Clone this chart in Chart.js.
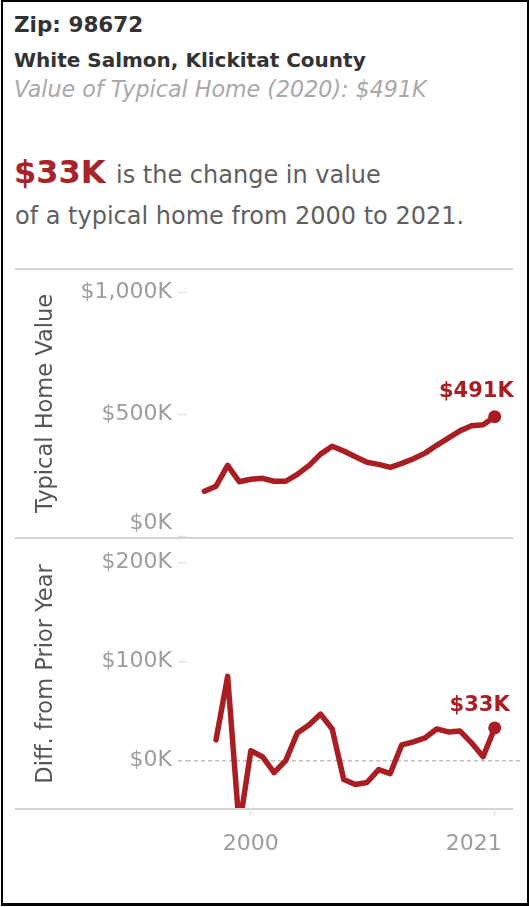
<!DOCTYPE html>
<html>
<head>
<meta charset="utf-8">
<script src="https://cdn.jsdelivr.net/npm/chart.js@4.4.1/dist/chart.umd.min.js"></script>
<style>
  html, body { margin: 0; padding: 0; background: #fff; }
  body { width: 529px; height: 907px; position: relative; overflow: hidden; font-family: "DejaVu Sans", sans-serif; }
  .frame { position: absolute; left: 1px; top: 0; width: 528px; height: 906px; border: 2px solid #000; border-bottom-width: 3px; box-sizing: border-box; }
  .txt { position: absolute; white-space: nowrap; line-height: 1; }
  .rule { position: absolute; left: 15px; width: 498px; height: 2px; background: #d3d3d3; }
  canvas { position: absolute; }
</style>
</head>
<body>
<div class="frame"></div>

<div class="txt" style="left:14px; top:14px; font-size:21.5px; font-weight:bold; color:#333;">Zip: 98672</div>
<div class="txt" style="left:14px; top:50px; font-size:20px; font-weight:bold; color:#333;">White Salmon, Klickitat County</div>
<div class="txt" style="left:14px; top:78px; font-size:22.2px; font-style:italic; color:#a8a8a8;">Value of Typical Home (2020): $491K</div>
<div class="txt" style="left:14px; top:156px; font-size:32px; font-weight:bold; color:#a8232a;">$33K</div>
<div class="txt" style="left:116px; top:163px; font-size:24px; color:#5f5f5f;">is the change in value</div>
<div class="txt" style="left:15px; top:204px; font-size:24px; color:#5f5f5f;">of a typical home from 2000 to 2021.</div>

<div class="rule" style="top:268px;"></div>
<div class="rule" style="top:537px;"></div>
<div class="rule" style="top:808px;"></div>

<canvas id="valueChart" width="507" height="267" style="left:15px; top:270px;"></canvas>
<canvas id="diffChart" width="507" height="327" style="left:15px; top:540px;"></canvas>

<script>
// values in $K
const years = [1996, 1997, 1998, 1999, 2000, 2001, 2002, 2003, 2004, 2005, 2006, 2007, 2008,
               2009, 2010, 2011, 2012, 2013, 2014, 2015, 2016, 2017, 2018, 2019, 2020, 2021];
const homeValue = [186, 207, 292, 225, 235, 239, 227, 227, 255, 291, 338, 370, 351,
                   327, 305, 296, 284, 300, 319, 342, 374, 403, 433, 454, 458, 491];
const diffYears = years.slice(1);
const diffPrior = [21, 85, -67, 10, 4, -12, 0, 28, 36, 47, 32, -19, -24,
                   -22, -9, -13, 16, 19, 23, 32, 29, 30, 18, 4, 33];
const valueTicks = [0, 500, 1000];
const diffTicks = [0, 100, 200];
const yearTicks = [2000, 2021];

const RED = '#a91e23';
const FONT = 'DejaVu Sans';
const TICK_GREY = '#9d9d9d';
const X_MIN = 1994.5, X_MAX = 2023.35;

function kFmt(v) {
    return '$' + v.toLocaleString('en-US') + 'K';
}

// the panes are fixed, so labels must not shrink the plot area
function noPad(s) {
    s.paddingLeft = 0; s.paddingRight = 0; s.paddingTop = 0; s.paddingBottom = 0;
}

// label above the last point of the line
const endLabel = {
    id: 'endLabel',
    afterDatasetsDraw(chart, args, opts) {
        const meta = chart.getDatasetMeta(0);
        const pt = meta.data[meta.data.length - 1];
        const data = chart.data.datasets[0].data;
        const ctx = chart.ctx;
        ctx.save();
        ctx.font = 'bold 21px "' + FONT + '"';
        ctx.fillStyle = RED;
        ctx.textAlign = 'right';
        ctx.textBaseline = 'alphabetic';
        ctx.fillText(kFmt(data[data.length - 1].y), pt.x + opts.dx, pt.y + opts.dy);
        ctx.restore();
    }
};

function lineSet(xs, ys) {
    const last = xs.length - 1;
    return {
        data: xs.map((x, i) => ({ x: x, y: ys[i] })),
        borderColor: RED,
        backgroundColor: RED,
        borderWidth: 5.5,
        borderJoinStyle: 'round',
        borderCapStyle: 'round',
        tension: 0,
        clip: 0,
        pointRadius: ctx => ctx.dataIndex === last ? 6.5 : 0,
        pointBackgroundColor: RED,
        pointBorderWidth: 0,
        pointHoverRadius: 0
    };
}

function yTitle(text) {
    return { display: true, text: text, color: '#555', font: { family: FONT, size: 22.5 }, padding: { top: 18, bottom: 0 } };
}

const baseOptions = {
    responsive: false,
    animation: false,
    events: [],
    layout: { padding: 0, autoPadding: false },
    plugins: { legend: { display: false }, tooltip: { enabled: false } }
};

// 1. Typical home value
new Chart(document.getElementById('valueChart'), {
    type: 'line',
    data: { datasets: [lineSet(years, homeValue)] },
    plugins: [endLabel],
    options: {
        ...baseOptions,
        plugins: { ...baseOptions.plugins, endLabel: { dx: 19, dy: -20 } },
        scales: {
            x: { type: 'linear', display: false, min: X_MIN, max: X_MAX },
            y: {
                min: -1, max: 1091,
                afterBuildTicks: s => { s.ticks = valueTicks.map(v => ({ value: v })); },
                afterFit: s => { s.width = 172; noPad(s); },
                border: { display: false },
                grid: { drawOnChartArea: false, tickLength: 9, tickColor: '#e3e3e3', tickWidth: 1.5 },
                ticks: {
                    padding: 6, color: TICK_GREY, font: { family: FONT, size: 22 },
                    // bottom label sits inside the pane, like the original
                    callback: v => v === 0 ? [kFmt(v), ''] : kFmt(v)
                },
                title: yTitle('Typical Home Value')
            }
        }
    }
});

// 2. Difference from prior year
new Chart(document.getElementById('diffChart'), {
    type: 'line',
    data: { datasets: [lineSet(diffYears, diffPrior)] },
    plugins: [endLabel],
    options: {
        ...baseOptions,
        plugins: { ...baseOptions.plugins, endLabel: { dx: 15, dy: -16.5 } },
        scales: {
            x: {
                type: 'linear', min: X_MIN, max: X_MAX,
                afterBuildTicks: s => { s.ticks = yearTicks.map(v => ({ value: v })); },
                afterFit: s => { s.height = 59; noPad(s); },
                border: { display: false },
                grid: { drawOnChartArea: false, tickLength: 8, tickColor: '#e6e6e6', tickWidth: 1.5 },
                ticks: {
                    padding: 15, color: TICK_GREY, font: { family: FONT, size: 22 },
                    maxRotation: 0, autoSkip: false,
                    // last year label is pulled in from the edge
                    callback: (v, i, arr) => i === arr.length - 1 ? String(v) + '      ' : String(v)
                }
            },
            y: {
                min: -47.7, max: 222.5,
                afterBuildTicks: s => { s.ticks = diffTicks.map(v => ({ value: v })); },
                afterFit: s => { s.width = 172; noPad(s); },
                border: { display: false, dash: [4, 3] },
                grid: {
                    drawOnChartArea: true,
                    color: ctx => ctx.tick && ctx.tick.value === 0 ? '#c2c2c2' : 'rgba(0,0,0,0)',
                    lineWidth: 1.5,
                    tickLength: 9,
                    tickColor: ctx => ctx.tick && ctx.tick.value === 0 ? '#c2c2c2' : '#e3e3e3',
                    tickWidth: 1.5,
                    tickBorderDash: ctx => ctx.tick && ctx.tick.value === 0 ? [4, 3] : []
                },
                ticks: { padding: 6, color: TICK_GREY, font: { family: FONT, size: 22 }, callback: v => kFmt(v) },
                title: yTitle('Diff. from Prior Year')
            }
        }
    }
});
</script>
</body>
</html>
